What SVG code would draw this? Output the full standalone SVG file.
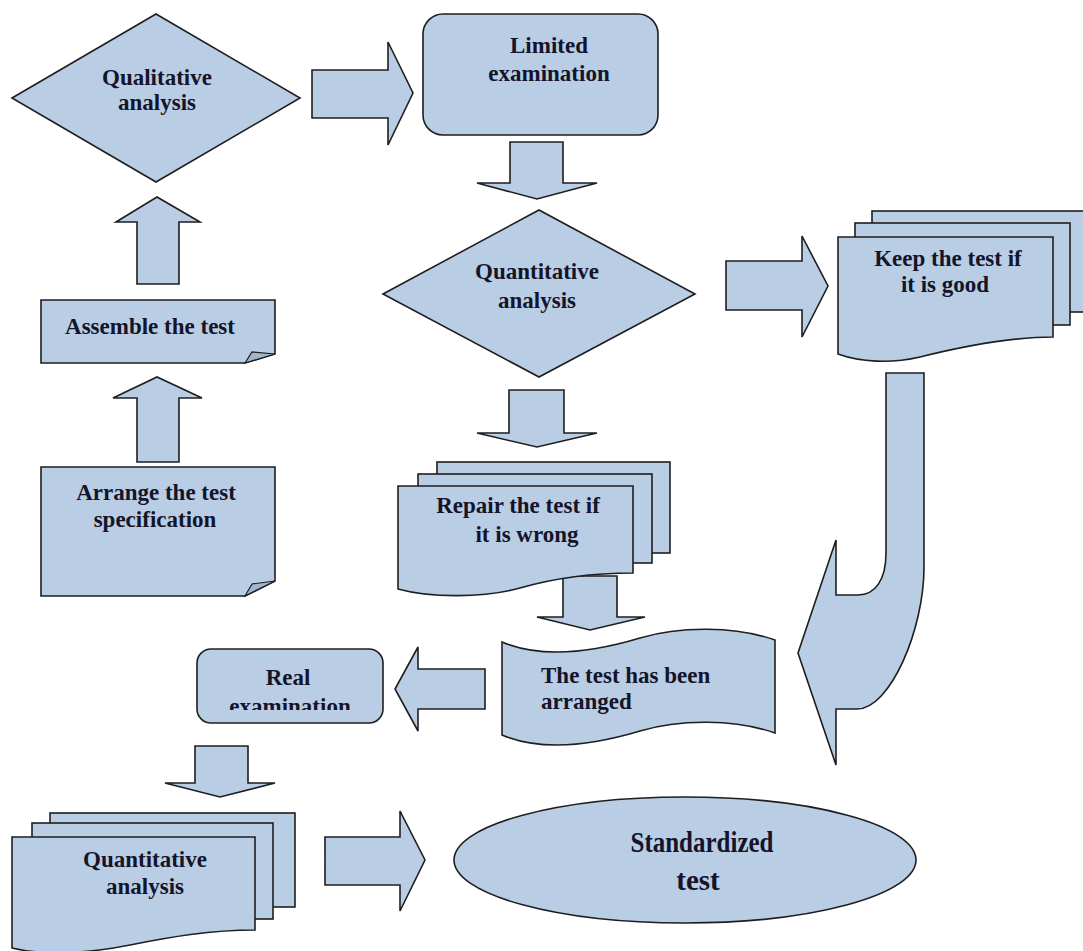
<svg xmlns="http://www.w3.org/2000/svg" width="1083" height="951" viewBox="0 0 1083 951">
<style>
.s{fill:#b9cde5;stroke:#1e1e1e;stroke-width:1.6;stroke-linejoin:miter}
.f{fill:#9fb4cf;stroke:#1e1e1e;stroke-width:1.2}
.t{font-family:"Liberation Serif","Times New Roman",serif;font-weight:bold;font-size:23px;fill:#14142a;text-anchor:middle}
.l{text-anchor:start}
.big{font-size:29px}
</style>
<defs>
<clipPath id="realclip"><rect x="190" y="640" width="200" height="70"/></clipPath>
</defs>
<rect width="1083" height="951" fill="#ffffff"/>

<g id="connectors">
<polygon class="s" points="312,70 388,70 388,42 413,93 388,145 388,118 312,118"/>
<polygon class="s" points="510,142 563,142 563,183 597,183 537,199 477,183 510,183"/>
<polygon class="s" points="726,261 802,261 802,236 828,286 802,337 802,310 726,310"/>
<polygon class="s" points="509,390 564,390 564,433 597,433 537,447 477,433 509,433"/>
<polygon class="s" points="563,576 617,576 617,617 645,617 590,630 537,617 563,617"/>
<polygon class="s" points="485,669 485,709 418,709 418,731 395,689 418,647 418,669"/>
<polygon class="s" points="195,746 248,746 248,783 275,783 220,797 165,783 195,783"/>
<polygon class="s" points="325,837 400,837 400,811 425,860 400,911 400,885 325,885"/>
<polygon class="s" points="137,284 179,284 179,222 200,222 157,197 116,222 137,222"/>
<polygon class="s" points="137,462 179,462 179,398 202,398 157,377 113,398 137,398"/>
<path class="s" d="M886,373 H924 V567 C924,630 890,709 857,709 H836 V765 L798,653 L836,540 V595 H858 C875,595 886,580 886,553 Z"/>
</g>

<g id="qualitative">
<polygon class="s" points="12,98 156,14 300,98 156,182"/>
<text class="t" x="157" y="85">Qualitative</text>
<text class="t" x="157" y="110">analysis</text>
</g>

<g id="limited">
<rect class="s" x="423" y="14" width="235" height="121" rx="20"/>
<text class="t" x="549" y="53">Limited</text>
<text class="t" x="549" y="81">examination</text>
</g>

<g id="quantitative1">
<polygon class="s" points="383,294 539,210 695,294 539,377"/>
<text class="t" x="537" y="279">Quantitative</text>
<text class="t" x="537" y="308">analysis</text>
</g>

<g id="keep">
<rect class="s" x="872" y="211" width="220" height="101"/>
<rect class="s" x="855" y="223" width="215" height="102"/>
<path class="s" d="M838,237 H1053 V337 C1010,337 960,347 920,357 C890,364 860,362 838,354 Z"/>
<text class="t" x="948" y="266">Keep the test if</text>
<text class="t" x="945" y="292">it is good</text>
</g>

<g id="assemble">
<path class="s" d="M41,300 H275 V354 L245,363 H41 Z"/>
<path class="f" d="M245,363 L252,352 L275,354 Z"/>
<text class="t" x="150" y="334">Assemble the test</text>
</g>

<g id="arrange">
<path class="s" d="M41,467 H275 V581 L245,596 H41 Z"/>
<path class="f" d="M245,596 L252,584 L275,581 Z"/>
<text class="t" x="156" y="500">Arrange the test</text>
<text class="t" x="155" y="527">specification</text>
</g>

<g id="repair">
<rect class="s" x="437" y="462" width="233" height="91"/>
<rect class="s" x="418" y="474" width="234" height="89"/>
<path class="s" d="M398,486 H633 V573 C590,573 555,578 520,588 C485,598 430,598 398,589 Z"/>
<text class="t" x="518" y="513">Repair the test if</text>
<text class="t" x="527" y="542">it is wrong</text>
</g>

<g id="arranged">
<path class="s" d="M502,642 C545,660 600,650 640,638 C680,626 735,626 775,640 V733 C735,719 680,719 640,731 C600,743 545,753 502,735 Z"/>
<text class="t l" x="541" y="683">The test has been</text>
<text class="t l" x="541" y="709">arranged</text>
</g>

<g id="real">
<rect class="s" x="197" y="649" width="186" height="74" rx="14"/>
<text class="t" x="288" y="685">Real</text>
<text class="t" x="290" y="714" clip-path="url(#realclip)">examination</text>
</g>

<g id="quantitative2">
<rect class="s" x="50" y="813" width="245" height="94"/>
<rect class="s" x="32" y="823" width="241" height="96"/>
<path class="s" d="M12,837 H255 V930 C210,930 170,937 130,945 C90,953 45,956 12,948 Z"/>
<text class="t" x="145" y="867">Quantitative</text>
<text class="t" x="145" y="894">analysis</text>
</g>

<g id="standardized">
<ellipse class="s" cx="685" cy="860" rx="231" ry="63"/>
<text class="t big" x="702" y="852" textLength="143" lengthAdjust="spacingAndGlyphs">Standardized</text>
<text class="t big" x="698" y="890">test</text>
</g>
</svg>
